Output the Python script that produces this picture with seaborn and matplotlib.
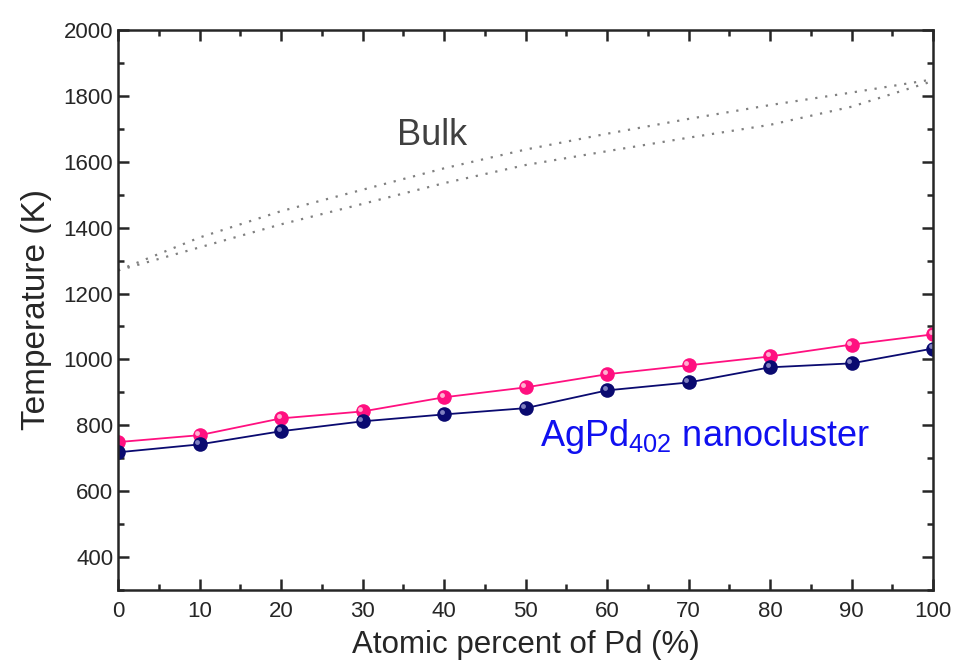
import numpy as np
import pandas as pd
import matplotlib
matplotlib.use("Agg")
import matplotlib.pyplot as plt
import matplotlib.transforms as mtransforms
from matplotlib.ticker import MultipleLocator
import seaborn as sns

# Datos
pd_pct = [0, 10, 20, 30, 40, 50, 60, 70, 80, 90, 100]
t_pink = [749, 770, 821, 842, 885, 915, 955, 982, 1009, 1045, 1076]
t_navy = [718, 742, 782, 812, 833, 852, 906, 930, 976, 988, 1033]
bulk_liquidus = [1270, 1370, 1450, 1515, 1580, 1637, 1685, 1730, 1772, 1810, 1850]
bulk_solidus = [1270, 1340, 1410, 1472, 1535, 1590, 1632, 1673, 1712, 1767, 1845]

df = pd.DataFrame({"x": pd_pct, "pink": t_pink, "navy": t_navy,
                   "liq": bulk_liquidus, "sol": bulk_solidus})

sns.set_style("ticks")
plt.rcParams["font.family"] = ["Liberation Sans", "DejaVu Sans"]
plt.rcParams["mathtext.fontset"] = "custom"
plt.rcParams["mathtext.rm"] = "Liberation Sans"
plt.rcParams["mathtext.it"] = "Liberation Sans"
plt.rcParams["mathtext.default"] = "rm"

fig = plt.figure(figsize=(9.72, 6.72), dpi=100)
ax = fig.add_axes([0.1214, 0.122, 0.8385, 0.8334])

# Curvas bulk (punteadas)
for col in ["liq", "sol"]:
    sns.lineplot(data=df, x="x", y=col, ax=ax, color="#808080",
                 linestyle=(0, (1, 3.5)), linewidth=1.6)

# Series del nanocluster con marcadores tipo esfera
hl = ax.transData + mtransforms.ScaledTranslation(-1.5 / 72, 1.5 / 72, fig.dpi_scale_trans)
for col, color, light in [("pink", "#ff1080", "#ffb0d0"), ("navy", "#0a0a70", "#8080c0")]:
    sns.lineplot(data=df, x="x", y=col, ax=ax, color=color, linewidth=1.3,
                 marker="o", markersize=10.5, markeredgewidth=0, markerfacecolor=color)
    ax.plot(df["x"], df[col], linestyle="none", marker="o", markersize=3.5,
            markeredgewidth=0, color=light, transform=hl)

ax.set_xlim(0, 100)
ax.set_ylim(300, 2000)
ax.xaxis.set_major_locator(MultipleLocator(10))
ax.xaxis.set_minor_locator(MultipleLocator(5))
ax.yaxis.set_major_locator(MultipleLocator(200))
ax.yaxis.set_minor_locator(MultipleLocator(100))
ax.set_yticks(range(400, 2001, 200))

ax.tick_params(which="both", direction="in", top=True, right=True, width=1.8, labelsize=16)
ax.tick_params(which="major", length=8)
ax.tick_params(which="minor", length=4.5)
ax.tick_params(axis="x", pad=8)
for s in ax.spines.values():
    s.set_linewidth(1.8)

ax.set_xlabel("Atomic percent of Pd (%)", fontsize=22.5, labelpad=6)
ax.set_ylabel("Temperature (K)", fontsize=24, labelpad=8)

ax.text(34.2, 1680, "Bulk", fontsize=26, color="#404040", va="center")
ax.text(51.8, 765, r"AgPd$_{402}$ nanocluster", fontsize=26, color="#1010f0", va="center")

fig.savefig("out.png", dpi=100)
